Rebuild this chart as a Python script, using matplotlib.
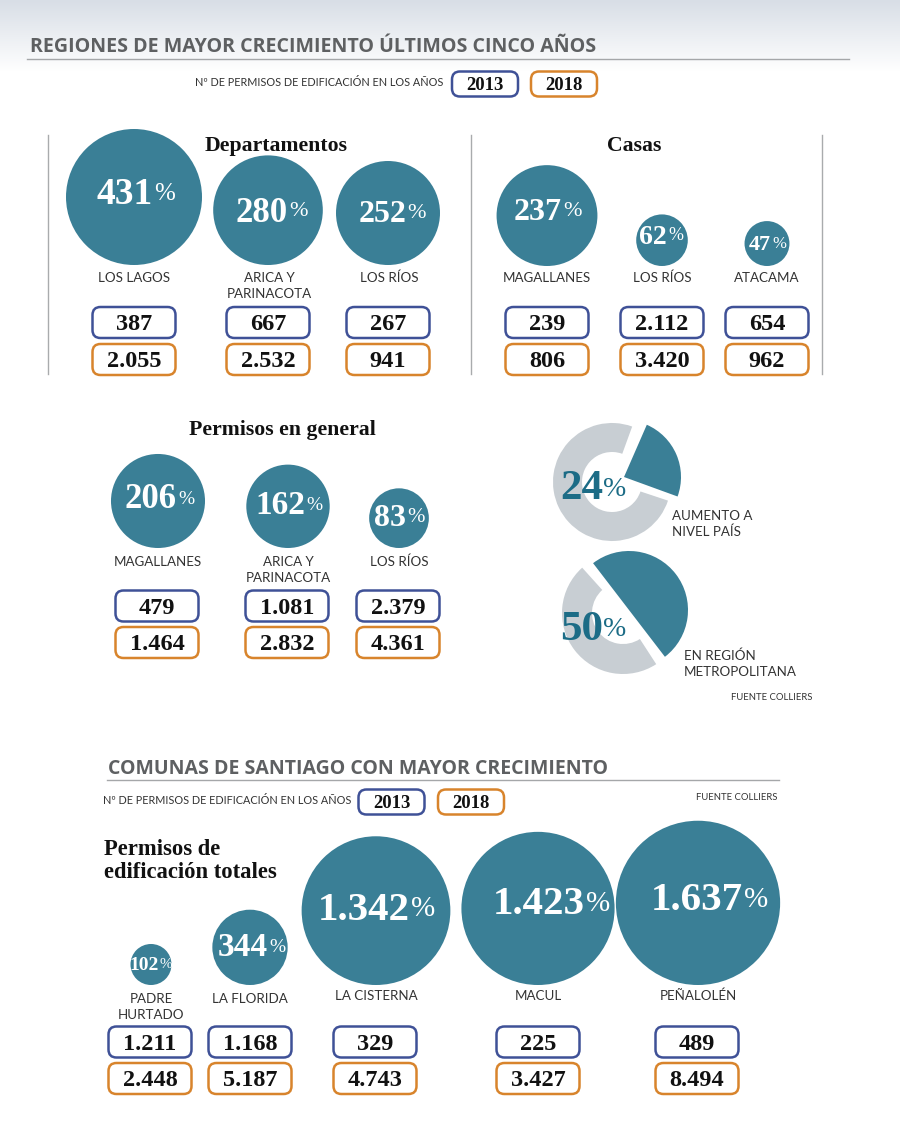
import numpy as np
import matplotlib
matplotlib.use("Agg")
import matplotlib.pyplot as plt
from matplotlib.patches import Circle, FancyBboxPatch, Wedge

# Regions
dept_names = ["LOS LAGOS", "ARICA Y\nPARINACOTA", "LOS RÍOS"]
dept_pct = [431, 280, 252]
dept_2013 = ["387", "667", "267"]
dept_2018 = ["2.055", "2.532", "941"]

casas_names = ["MAGALLANES", "LOS RÍOS", "ATACAMA"]
casas_pct = [237, 62, 47]
casas_2013 = ["239", "2.112", "654"]
casas_2018 = ["806", "3.420", "962"]

gen_names = ["MAGALLANES", "ARICA Y\nPARINACOTA", "LOS RÍOS"]
gen_pct = [206, 162, 83]
gen_2013 = ["479", "1.081", "2.379"]
gen_2018 = ["1.464", "2.832", "4.361"]

# Santiago communes
com_names = ["PADRE\nHURTADO", "LA FLORIDA", "LA CISTERNA", "MACUL", "PEÑALOLÉN"]
com_pct = ["102", "344", "1.342", "1.423", "1.637"]
com_vals = [102, 344, 1342, 1423, 1637]
com_2013 = ["1.211", "1.168", "329", "225", "489"]
com_2018 = ["2.448", "5.187", "4.743", "3.427", "8.494"]

# Donuts
share_pais = 24
share_rm = 50

TEAL = "#3a7f96"
DARK_TEAL = "#1c6c86"
GREY = "#c8ced3"
BLUE = "#3f5197"
ORANGE = "#d8842c"
TITLE = "#5e6062"

SANS = "Lato"
SERIF = "Liberation Serif"

fig = plt.figure(figsize=(9, 11.28), dpi=100)
ax = fig.add_axes([0, 0, 1, 1])
ax.axis("off")

# top gradient
grad = np.linspace(0, 1, 72).reshape(-1, 1)
top = np.array([216, 222, 230]) / 255
colors = (top + (1 - top) * grad)[:, None, :].reshape(72, 1, 3)
ax.imshow(colors, extent=[0, 900, 72, 0], aspect="auto", zorder=0)
ax.set_xlim(0, 900)
ax.set_ylim(1128, 0)


def chip(cx, cy, txt, color, w=83, h=31, size=17.5):
    box = FancyBboxPatch((cx - w / 2 + 7, cy - h / 2 + 7), w - 14, h - 14,
                         boxstyle="round,pad=7,rounding_size=8",
                         fc="white", ec=color, lw=1.8, zorder=3)
    ax.add_patch(box)
    ax.text(cx, cy + 2, txt, ha="center", va="center", family=SERIF,
            weight="bold", size=size, color="#111111", zorder=4)


def bubble(cx, base, value, k, txt, split, ty, size, psize):
    r = k * np.sqrt(value)
    ax.add_patch(Circle((cx, base - r), r, fc=TEAL, ec="none", zorder=2))
    ax.text(split, ty + 3, txt, ha="right", va="center", family=SERIF, weight="bold",
            size=size, color="white", zorder=3)
    ax.text(split + 1, ty + 2, "%", ha="left", va="center", family=SERIF,
            size=psize, color="white", zorder=3)


def label(cx, cy, txt, size=9.6):
    ax.text(cx, cy, txt, ha="center", va="top", family=SANS, size=size,
            color="#333333", linespacing=1.36, zorder=3)


def heading(x, y, txt, ha="center", size=15.7):
    ax.text(x, y, txt, ha=ha, va="center", family=SERIF, weight="bold", size=size,
            color="#111111", linespacing=1.15, zorder=3)


def legend(x_text_end, x13, x18, cy):
    ax.text(x_text_end, cy, "Nº DE PERMISOS DE EDIFICACIÓN EN LOS AÑOS", ha="right",
            va="center", family=SANS, size=7.8, color="#333333")
    chip(x13, cy + 1, "2013", BLUE, w=66, h=25, size=13.5)
    chip(x18, cy + 1, "2018", ORANGE, w=66, h=25, size=13.5)


def donut(cx, cy, r, hole, start, share, gap, wx, wy, wr, wstart):
    grey_span = (100 - share) * 3.6 - gap
    ax.add_patch(Wedge((cx, cy), r, -(start + grey_span), -start, width=r - hole,
                       fc=GREY, ec="none", zorder=2))
    ax.add_patch(Wedge((wx, wy), wr, -(wstart + share * 3.6), -wstart,
                       fc=TEAL, ec="none", zorder=2))


# headers
ax.text(30, 47.5, "REGIONES DE MAYOR CRECIMIENTO ÚLTIMOS CINCO AÑOS", family="Open Sans",
        weight="bold", size=14.1, color=TITLE, va="center", zorder=3)
ax.plot([27, 849], [59, 59], color="#a5a7a9", lw=1, zorder=3)
legend(443, 485, 564, 83)

for x in [48, 471, 822]:
    ax.plot([x, x], [135, 374], color="#a9abad", lw=1, zorder=1)

heading(276, 146, "Departamentos")
heading(634, 146, "Casas")
heading(282, 430, "Permisos en general")

# row one
K1 = 68 / np.sqrt(431)
xs = [134, 268, 388]
splits = [153, 288, 406]
tys = [192, 210, 211]
sizes = [27, 25, 23]
for i in range(3):
    bubble(xs[i], 265, dept_pct[i], K1, str(dept_pct[i]), splits[i], tys[i], sizes[i],
           [18, 16, 16][i])
    label(xs[i] + (1 if i else 0), 272, dept_names[i])
    chip(xs[i], 322.5, dept_2013[i], BLUE)
    chip(xs[i], 359.5, dept_2018[i], ORANGE)

xs = [547, 662, 767]
splits = [562, 667, 771]
tys = [210, 234, 242]
sizes = [23, 20, 16]
for i in range(3):
    bubble(xs[i], 266, casas_pct[i], K1, str(casas_pct[i]), splits[i], tys[i], sizes[i],
           [16, 13, 12][i])
    label(xs[i], 272, casas_names[i])
    chip(xs[i], 322.5, casas_2013[i], BLUE)
    chip(xs[i], 359.5, casas_2018[i], ORANGE)

# row two
xs = [157, 287, 398]
splits = [177, 305, 406]
tys = [497, 503, 516]
sizes = [25, 24, 23]
for i in range(3):
    bubble(xs[i] + 1, 548, gen_pct[i], K1, str(gen_pct[i]), splits[i], tys[i], sizes[i],
           [14, 14, 15][i])
    label(xs[i] + 1, 556, gen_names[i])
    chip(xs[i], 606, gen_2013[i], BLUE)
    chip(xs[i], 642.5, gen_2018[i], ORANGE)

# donuts
donut(612, 482, 59, 30, 70, share_pais, 2, 624, 477, 57, -20)
ax.text(603, 489, "%", ha="left", va="center", family=SERIF, size=20, color=DARK_TEAL, zorder=4)
ax.text(603, 489, "24", ha="right", va="center", family=SERIF, weight="bold", size=31, color=DARK_TEAL, zorder=4)
ax.text(672, 524, "AUMENTO A\nNIVEL PAÍS", ha="left", va="center", family=SANS,
        size=9.6, color="#333333", linespacing=1.36)

donut(623, 613, 61, 31, 132, share_rm, 9, 629, 610, 59, -52.5)
ax.text(603, 630, "%", ha="left", va="center", family=SERIF, size=20, color=DARK_TEAL, zorder=4)
ax.text(603, 630, "50", ha="right", va="center", family=SERIF, weight="bold", size=31, color=DARK_TEAL, zorder=4)
ax.text(684, 664, "EN REGIÓN\nMETROPOLITANA", ha="left", va="center", family=SANS,
        size=9.6, color="#333333", linespacing=1.36)
ax.text(812, 697, "FUENTE COLLIERS", ha="right", va="center", family=SANS, size=6.8, color="#333333")

# communes block
ax.text(108, 768.5, "COMUNAS DE SANTIAGO CON MAYOR CRECIMIENTO", family="Open Sans",
        weight="bold", size=14.05, color=TITLE, va="center", zorder=3)
ax.plot([107, 779], [780, 780], color="#a5a7a9", lw=1, zorder=3)
legend(351, 391.5, 471, 801)
ax.text(777, 798, "FUENTE COLLIERS", ha="right", va="center", family=SANS, size=6.8, color="#333333")
heading(104, 861, "Permisos de\nedificación totales", ha="left", size=16.3)

K2 = 2.03
xs = [151, 250, 376, 538, 698]
splits = [159, 268, 410, 585, 743]
tys = [963, 945, 907, 902, 898]
sizes = [14, 24, 29.5, 29.5, 29.5]
psizes = [11, 14, 21, 21, 21]
label_y = [993, 993, 990, 990, 990]
for i in range(5):
    bubble(xs[i], 985, com_vals[i], K2, com_pct[i], splits[i], tys[i], sizes[i], psizes[i])
    label(xs[i], label_y[i], com_names[i])
    cx = [150, 250, 375, 538, 697][i]
    chip(cx, 1042, com_2013[i], BLUE)
    chip(cx, 1078.5, com_2018[i], ORANGE)

fig.savefig("out.png", dpi=100)
